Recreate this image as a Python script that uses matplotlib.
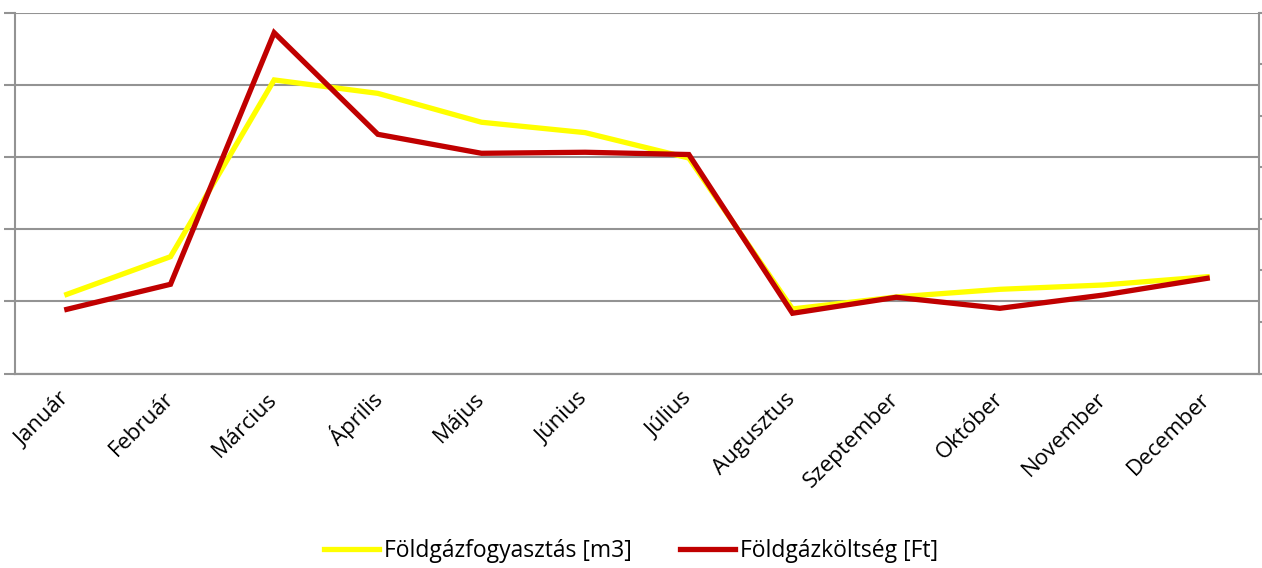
import numpy as np
import matplotlib.pyplot as plt

plt.rcParams['font.family'] = ['Open Sans', 'DejaVu Sans']

honapok = ['Január', 'Február', 'Március', 'Április', 'Május', 'Június',
           'Július', 'Augusztus', 'Szeptember', 'Október', 'November', 'December']
fogyasztas = [548, 809, 2033, 1940, 1740, 1668, 1492, 447, 530, 583, 613, 670]
koltseg = [62200, 86500, 330400, 231900, 213500, 214500, 212300, 58400, 73900, 63200, 76100, 92300]

gray = '#939393'
x = np.arange(len(honapok))

fig = plt.figure(figsize=(12.62, 5.68), dpi=100)
ax = fig.add_axes([15/1262, (568-373.5)/568, 1244/1262, 361/568])
ax2 = ax.twinx()

l1, = ax.plot(x, fogyasztas, color='#ffff00', lw=3.8, solid_joinstyle='miter', label='Földgázfogyasztás [m3]', zorder=3)
l2, = ax2.plot(x, koltseg, color='#c00000', lw=3.8, solid_joinstyle='miter', label='Földgázköltség [Ft]', zorder=3)

ax.set_xlim(-0.5, len(honapok) - 0.5)
ax.set_ylim(0, 2500)
ax.set_yticks(np.arange(0, 2501, 500))
ax.yaxis.grid(True, color=gray, lw=1.5)
ax.set_axisbelow(True)
ax.tick_params(axis='y', length=8, width=1.5, color=gray, labelleft=False)
ax2.set_ylim(0, 350000)
ax2.set_yticks(np.arange(0, 350001, 50000))
ax2.tick_params(axis='y', length=4, width=1.5, color=gray, labelright=False)

ax.set_xticks(x)
ax.set_xticklabels(honapok, rotation=45, ha='right', va='center', rotation_mode='anchor', fontsize=16)
ax.tick_params(axis='x', length=0, pad=16)

for a in (ax, ax2):
    a.spines['top'].set_visible(False)
    for s in ('left', 'right', 'bottom'):
        a.spines[s].set_color(gray)
        a.spines[s].set_linewidth(1.5)
ax2.spines['left'].set_visible(False)
ax.spines['right'].set_visible(False)
ax2.set_zorder(ax.get_zorder() + 1)
ax2.patch.set_visible(False)

fig.legend(handles=[l1, l2], loc='center', bbox_to_anchor=(0.5, 1 - 551/568), ncol=2,
           frameon=False, fontsize=16.5, handlelength=2.4, handletextpad=0.2, columnspacing=2.1)

fig.savefig('out.png', dpi=100)
